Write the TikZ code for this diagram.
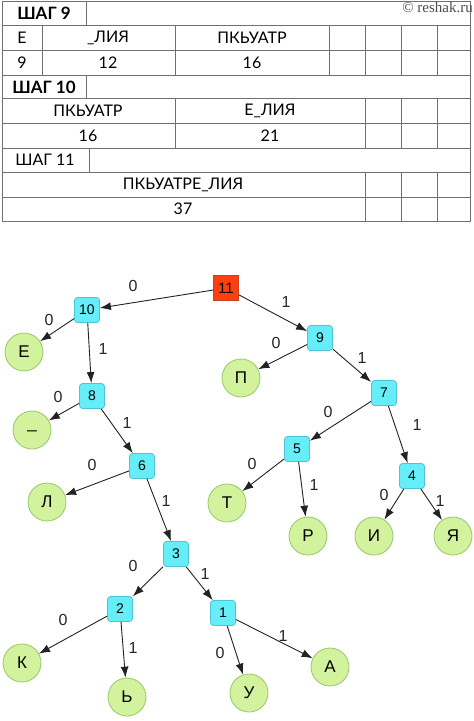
\documentclass[tikz,border=0pt]{standalone}
\usepackage{fontspec}
\setmainfont{Liberation Sans}
\newfontfamily\tabfont{Lato}
\newfontfamily\wmfont{Liberation Serif}
\usetikzlibrary{arrows.meta}
\definecolor{gridc}{HTML}{707070}
\definecolor{rootfill}{HTML}{FF3F10}
\definecolor{rootdraw}{HTML}{C84020}
\definecolor{cyanfill}{HTML}{66EEF8}
\definecolor{cyandraw}{HTML}{50C4D4}
\definecolor{leaffill}{HTML}{D2F29E}
\definecolor{leafdraw}{HTML}{98C868}
\definecolor{edgec}{HTML}{222222}
\tikzset{
  gridline/.style={draw=gridc, line width=1pt},
  celltext/.style={font=\tabfont\fontsize{16}{16}\selectfont, text=black, inner sep=0pt},
  cellbold/.style={font=\tabfont\bfseries\fontsize{17}{17}\selectfont, text=black, inner sep=0pt},
  rootbox/.style={rectangle, fill=rootfill, draw=rootdraw, line width=0.8pt, minimum size=25pt, inner sep=0pt, font=\fontsize{15}{15}\selectfont},
  inbox/.style={rectangle, rounded corners=3pt, fill=cyanfill, draw=cyandraw, line width=0.8pt, minimum size=25pt, inner sep=0pt, font=\fontsize{14}{14}\selectfont},
  leaf/.style={circle, fill=leaffill, draw=leafdraw, line width=0.8pt, minimum size=38pt, inner sep=0pt, font=\fontsize{17}{17}\selectfont},
  arr/.style={draw=edgec, line width=0.9pt, -{Latex[length=11pt,width=8pt]}},
  lbl/.style={font=\fontsize{16}{16}\selectfont, inner sep=0pt, text=black!85}
}
\begin{document}
\begin{tikzpicture}[x=1pt,y=-1pt]
\useasboundingbox (0,0) rectangle (474,721);
\fill[white] (0,0) rectangle (474,721);
% ---- table ----
\draw[gridline] (2,1) rectangle (470,221);
\foreach \yy in {25,50,75,98,123,148,172,197} \draw[gridline] (2,\yy) -- (470,\yy);
\draw[gridline] (86,1) -- (86,25);
\foreach \xx in {42,175,329,365,401,437} \draw[gridline] (\xx,25) -- (\xx,75);
\draw[gridline] (86,75) -- (86,98);
\foreach \xx in {175,365,401,437} \draw[gridline] (\xx,98) -- (\xx,148);
\draw[gridline] (89,148) -- (89,172);
\foreach \xx in {365,401,437} \draw[gridline] (\xx,172) -- (\xx,221);
\node[cellbold] (s9) at (44,13) {ШАГ 9};
\node[celltext] (t1) at (22,38) {Е};
\node[celltext] (t2) at (108,38) {\_ЛИЯ};
\node[celltext] (t3) at (252,38) {ПКЬУАТР};
\node[celltext] (t4) at (22,63) {9};
\node[celltext] (t5) at (108,63) {12};
\node[celltext] (t6) at (252,63) {16};
\node[cellbold] (s10) at (44,87) {ШАГ 10};
\node[celltext] (t7) at (88,111) {ПКЬУАТР};
\node[celltext] (t8) at (270,111) {Е\_ЛИЯ};
\node[celltext] (t9) at (88,136) {16};
\node[celltext] (t10) at (270,136) {21};
\node[celltext] (s11) at (45,160) {ШАГ 11};
\node[celltext] (t11) at (183,185) {ПКЬУАТРЕ\_ЛИЯ};
\node[celltext] (t12) at (183,209) {37};
\node[anchor=east, inner sep=0pt, text=black!70, font=\wmfont\fontsize{15}{15}\selectfont] (wm) at (473,7) {© reshak.ru};
% ---- tree ----
\node[rootbox] (n11) at (226,288) {11};
\node[inbox] (n10) at (87,310) {10};
\node[inbox] (n9) at (320,338) {9};
\node[inbox] (n8) at (92,396) {8};
\node[inbox] (n7) at (384,393) {7};
\node[inbox] (n6) at (142,466) {6};
\node[inbox] (n5) at (297,449) {5};
\node[inbox] (n4) at (412,476) {4};
\node[inbox] (n3) at (176,554) {3};
\node[inbox] (n2) at (120,609) {2};
\node[inbox] (n1) at (223,613) {1};
\node[leaf] (lE) at (24,352) {Е};
\node[leaf] (lP) at (241,378) {П};
\node[leaf] (lU) at (32,430) {\_};
\node[leaf] (lL) at (47,502) {Л};
\node[leaf] (lT) at (227,503) {Т};
\node[leaf] (lR) at (308,536) {Р};
\node[leaf] (lI) at (374,536) {И};
\node[leaf] (lYa) at (453,536) {Я};
\node[leaf] (lK) at (22,663) {К};
\node[leaf] (lSoft) at (127,697) {Ь};
\node[leaf] (lY) at (249,693) {У};
\node[leaf] (lA) at (330,667) {А};
\draw[arr] (n11) -- (n10);
\draw[arr] (n11) -- (n9);
\draw[arr] (n10) -- (lE);
\draw[arr] (n10) -- (n8);
\draw[arr] (n9) -- (lP);
\draw[arr] (n9) -- (n7);
\draw[arr] (n8) -- (lU);
\draw[arr] (n8) -- (n6);
\draw[arr] (n7) -- (n5);
\draw[arr] (n7) -- (n4);
\draw[arr] (n6) -- (lL);
\draw[arr] (n6) -- (n3);
\draw[arr] (n5) -- (lT);
\draw[arr] (n5) -- (lR);
\draw[arr] (n4) -- (lI);
\draw[arr] (n4) -- (lYa);
\draw[arr] (n3) -- (n2);
\draw[arr] (n3) -- (n1);
\draw[arr] (n2) -- (lK);
\draw[arr] (n2) -- (lSoft);
\draw[arr] (n1) -- (lY);
\draw[arr] (n1) -- (lA);
\node[lbl] (e1) at (133,286) {0};
\node[lbl] (e2) at (286,302) {1};
\node[lbl] (e3) at (49,320) {0};
\node[lbl] (e4) at (103,349) {1};
\node[lbl] (e5) at (276,343) {0};
\node[lbl] (e6) at (362,358) {1};
\node[lbl] (e7) at (58,397) {0};
\node[lbl] (e8) at (127,423) {1};
\node[lbl] (e9) at (328,412) {0};
\node[lbl] (e10) at (417,425) {1};
\node[lbl] (e11) at (92,465) {0};
\node[lbl] (e12) at (166,501) {1};
\node[lbl] (e13) at (252,464) {0};
\node[lbl] (e14) at (314,485) {1};
\node[lbl] (e15) at (384,495) {0};
\node[lbl] (e16) at (440,501) {1};
\node[lbl] (e17) at (133,566) {0};
\node[lbl] (e18) at (205,574) {1};
\node[lbl] (e19) at (63,620) {0};
\node[lbl] (e20) at (133,648) {1};
\node[lbl] (e21) at (220,653) {0};
\node[lbl] (e22) at (283,636) {1};
\end{tikzpicture}
\end{document}
